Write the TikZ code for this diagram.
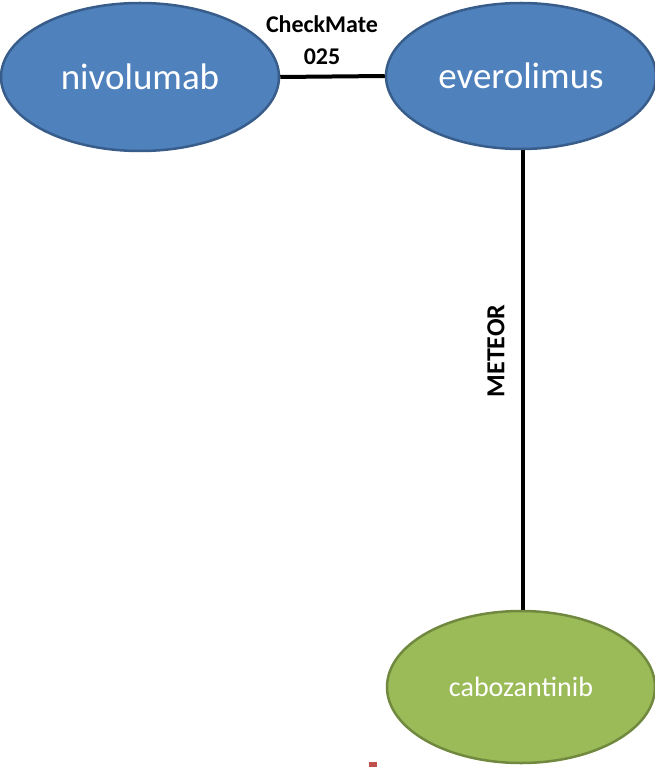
\documentclass[tikz,border=0pt]{standalone}
\usepackage{fontspec}
\setmainfont{Carlito}
\usetikzlibrary{shapes.geometric}
\definecolor{bluefill}{HTML}{4F81BD}
\definecolor{blueline}{HTML}{385D8A}
\definecolor{greenfill}{HTML}{9BBB59}
\definecolor{greenline}{HTML}{71893F}
\definecolor{redmark}{HTML}{C0504D}
\tikzset{
  drug/.style={ellipse, draw=blueline, fill=bluefill, line width=2.5pt, text=white, inner sep=0pt, font=\fontsize{37}{37}\selectfont},
  drugg/.style={ellipse, draw=greenline, fill=greenfill, line width=2.5pt, text=white, inner sep=0pt, font=\fontsize{28}{28}\selectfont},
  edgeline/.style={line width=4pt, black},
  edgelabel/.style={font=\bfseries\fontsize{24}{32}\selectfont, align=center, inner sep=0pt}
}
\begin{document}
\begin{tikzpicture}[x=1pt,y=-1pt]
\useasboundingbox (0,0) rectangle (654,767);
\node[drug, minimum width=278pt, minimum height=148pt] (niv) at (140,77) {nivolumab};
\node[drug, minimum width=270pt, minimum height=146pt] (eve) at (521,76) {everolimus};
\node[drugg, minimum width=268pt, minimum height=152pt] (cab) at (521,687) {cabozantinib};
\draw[edgeline] (niv.east) -- (eve.west);
\draw[edgeline] ([xshift=2pt]eve.south) -- ([xshift=2pt]cab.north);
\node[edgelabel] (lab1) at (322,40) {CheckMate\\025};
\node[edgelabel, font=\bfseries\fontsize{26}{26}\selectfont, rotate=90] (lab2) at (496,351) {METEOR};
\fill[redmark] (369,762) rectangle (377,767);
\end{tikzpicture}
\end{document}
